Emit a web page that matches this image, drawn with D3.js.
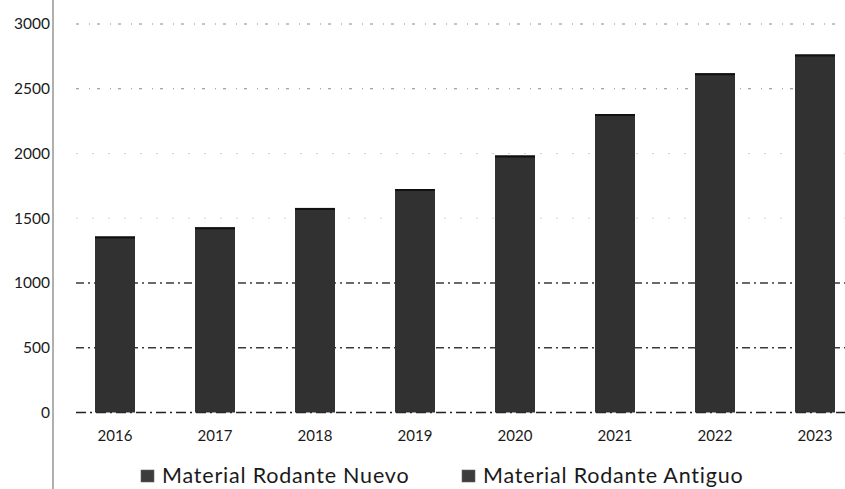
<!DOCTYPE html>
<html><head><meta charset="utf-8">
<script src="https://cdn.jsdelivr.net/npm/d3@7"></script>
<style>body{margin:0;background:#fff;} svg{display:block;}</style>
</head><body>
<svg id="c" width="845" height="489"></svg>
<script>
const years = ["2016","2017","2018","2019","2020","2021","2022","2023"];
const nuevo = [1360, 1430, 1580, 1725, 1985, 2305, 2620, 2765];
const yTicks = [0, 500, 1000, 1500, 2000, 2500, 3000];
const legendLabels = ["Material Rodante Nuevo", "Material Rodante Antiguo"];

const svg = d3.select("#c");
const font = "Lato, 'Open Sans', sans-serif";
const y = d3.scaleLinear().domain([0, 3000]).range([412.5, 24]);
const x = d3.scaleBand().domain(years).range([75, 855]).paddingInner(0.6).paddingOuter(0.2);

// left vertical border
svg.append("line").attr("x1", 53).attr("x2", 53).attr("y1", 0).attr("y2", 489)
  .attr("stroke", "#b0b0b0").attr("stroke-width", 2);

// gridlines
const gridStroke = d => d === 0 ? "#222" : (d <= 1000 ? "#3a3a3a" : (d >= 2500 ? "#888" : "#d4d4d4"));
const gridDash = d => d === 0 ? "10,4,2,4" : (d <= 1000 ? "8,4,2,4" : (d >= 2500 ? "3,10,1,7" : "2,14"));
svg.append("g").selectAll("line").data(yTicks).join("line")
  .attr("x1", 76).attr("x2", 845)
  .attr("y1", d => y(d)).attr("y2", d => y(d))
  .attr("stroke", gridStroke)
  .attr("stroke-width", d => d <= 1000 ? 1.3 : 1)
  .attr("stroke-dasharray", gridDash);

// y axis labels
const yAxis = d3.axisLeft(y).tickValues(yTicks).tickFormat(d3.format("d")).tickSize(0).tickPadding(0);
const ya = svg.append("g").attr("transform", "translate(50,0)").call(yAxis);
ya.select(".domain").remove();
ya.selectAll("text").attr("font-family", font).attr("font-size", 15.5).attr("fill", "#1a1a1a");

// bars
svg.append("g").selectAll("rect").data(years).join("rect")
  .attr("x", d => x(d)).attr("width", x.bandwidth())
  .attr("y", (d, i) => y(nuevo[i])).attr("height", (d, i) => y(0) - y(nuevo[i]))
  .attr("fill", "#313131");
svg.append("g").selectAll("line").data(years).join("line")
  .attr("x1", d => x(d)).attr("x2", d => x(d) + x.bandwidth())
  .attr("y1", (d, i) => y(nuevo[i]) + 1).attr("y2", (d, i) => y(nuevo[i]) + 1)
  .attr("stroke", "#111").attr("stroke-width", 2);

// x axis labels
const xAxis = d3.axisBottom(x).tickSize(0).tickPadding(0);
const xa = svg.append("g").attr("transform", "translate(0,436)").call(xAxis);
xa.select(".domain").remove();
xa.selectAll("text").attr("font-family", font).attr("font-size", 15).attr("fill", "#1a1a1a")
  .attr("y", 0).attr("dy", "0.35em");

// legend
const legX = [141, 462];
const leg = svg.append("g").selectAll("g").data(legendLabels).join("g")
  .attr("transform", (d, i) => `translate(${legX[i]},470)`);
leg.append("rect").attr("width", 13).attr("height", 12).attr("fill", "#3c3c3c")
  .attr("stroke", "#666").attr("stroke-width", 0.6);
leg.append("text").attr("x", 21).attr("y", 13).text(d => d)
  .attr("font-family", font).attr("font-size", 21.5).attr("letter-spacing", 0.8).attr("fill", "#1a1a1a");
</script>
</body></html>
